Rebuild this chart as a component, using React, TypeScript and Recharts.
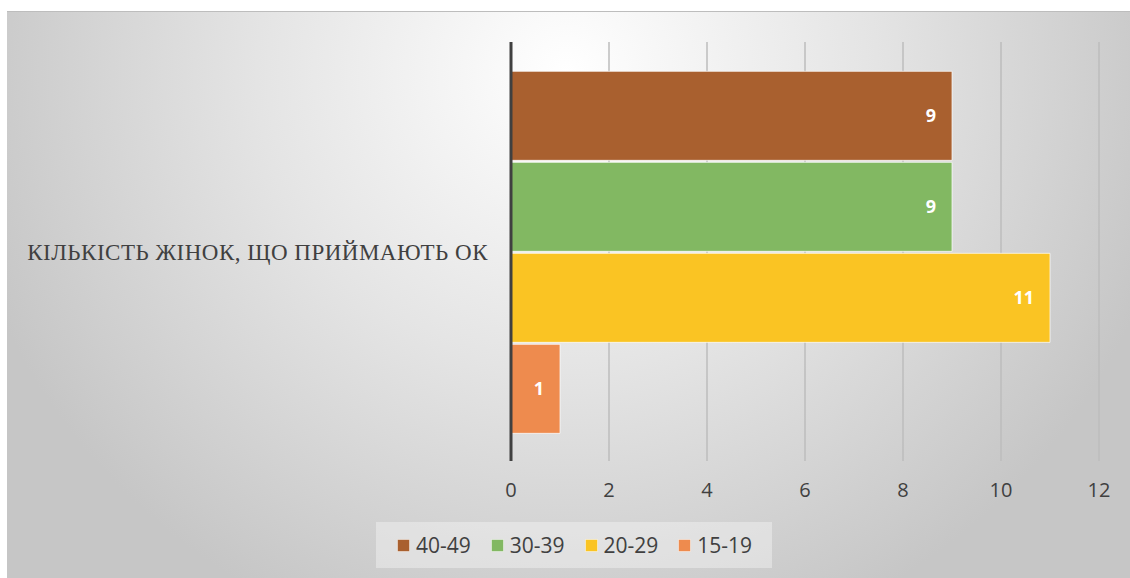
import React from "react";
import {
  BarChart,
  Bar,
  XAxis,
  YAxis,
  CartesianGrid,
  Legend,
  LabelList,
} from "recharts";

const categories = ["КІЛЬКІСТЬ ЖІНОК, ЩО ПРИЙМАЮТЬ ОК"];
const ages40to49 = [9];
const ages30to39 = [9];
const ages20to29 = [11];
const ages15to19 = [1];
const xTicks = [0, 2, 4, 6, 8, 10, 12];

const series = [
  { key: "a40", name: "40-49", color: "#A9602F", values: ages40to49 },
  { key: "a30", name: "30-39", color: "#82B862", values: ages30to39 },
  { key: "a20", name: "20-29", color: "#FAC423", values: ages20to29 },
  { key: "a15", name: "15-19", color: "#EE8B4E", values: ages15to19 },
];

const rows = categories.map((name, i) => {
  const row: Record<string, string | number> = { name };
  series.forEach((s) => {
    row[s.key] = s.values[i];
  });
  return row;
});

const textColor = "#404040";

const LegendBox = () => (
  <div
    style={{
      display: "flex",
      alignItems: "center",
      height: 46,
      paddingLeft: 21,
      boxSizing: "border-box",
      background: "rgba(255,255,255,0.35)",
      fontFamily: "'Open Sans', sans-serif",
      fontSize: 21,
      color: textColor,
    }}
  >
    {series.map((s) => (
      <div
        key={s.key}
        style={{ display: "flex", alignItems: "center", width: 96 }}
      >
        <svg width={13} height={13} style={{ marginRight: 6 }}>
          <rect
            x={0.5}
            y={0.5}
            width={12}
            height={12}
            fill={s.color}
            stroke="#ffffff"
            strokeOpacity={0.45}
          />
        </svg>
        <span>{s.name}</span>
      </div>
    ))}
  </div>
);

export default function App() {
  return (
    <div
      style={{
        position: "absolute",
        left: 7,
        top: 11,
        width: 1123,
        height: 567,
        borderTop: "1px solid #bdbdbd",
        boxSizing: "border-box",
        background:
          "radial-gradient(ellipse 620px 600px at 560px 60px, #ffffff 0%, #e4e4e4 50%, #c6c6c6 100%)",
      }}
    >
      <BarChart
        width={1123}
        height={566}
        data={rows}
        layout="vertical"
        margin={{ top: 30, right: 31, bottom: 77, left: 0 }}
        barCategoryGap="7%"
        barGap={2}
      >
        <CartesianGrid
          horizontal={false}
          stroke="#bcbcbc"
          strokeWidth={1.5}
        />
        <XAxis
          type="number"
          domain={[0, 12]}
          ticks={xTicks}
          axisLine={false}
          tickLine={false}
          tickSize={0}
          tickMargin={22}
          height={40}
          tick={{
            fill: textColor,
            fontSize: 20,
            fontFamily: "'Open Sans', sans-serif",
          }}
        />
        <YAxis
          type="category"
          dataKey="name"
          width={504}
          axisLine={{ stroke: textColor, strokeWidth: 3 }}
          tickLine={false}
          tickSize={0}
          tickMargin={23}
          tick={{
            fill: textColor,
            fontSize: 23,
            letterSpacing: 0.5,
            fontFamily: "'Liberation Serif', 'Times New Roman', serif",
          }}
        />
        <Legend
          verticalAlign="middle"
          align="center"
          layout="horizontal"
          wrapperStyle={{ top: 510, left: 369, width: 396, height: 46 }}
          content={() => <LegendBox />}
        />
        {series.map((s) => (
          <Bar
            key={s.key}
            dataKey={s.key}
            name={s.name}
            fill={s.color}
            stroke="#ffffff"
            strokeOpacity={0.7}
            strokeWidth={1}
            isAnimationActive={false}
          >
            <LabelList
              dataKey={s.key}
              position="insideRight"
              offset={16}
              fill="#ffffff"
              fontSize={18}
              fontWeight="bold"
              fontFamily="'Open Sans', sans-serif"
            />
          </Bar>
        ))}
      </BarChart>
    </div>
  );
}
